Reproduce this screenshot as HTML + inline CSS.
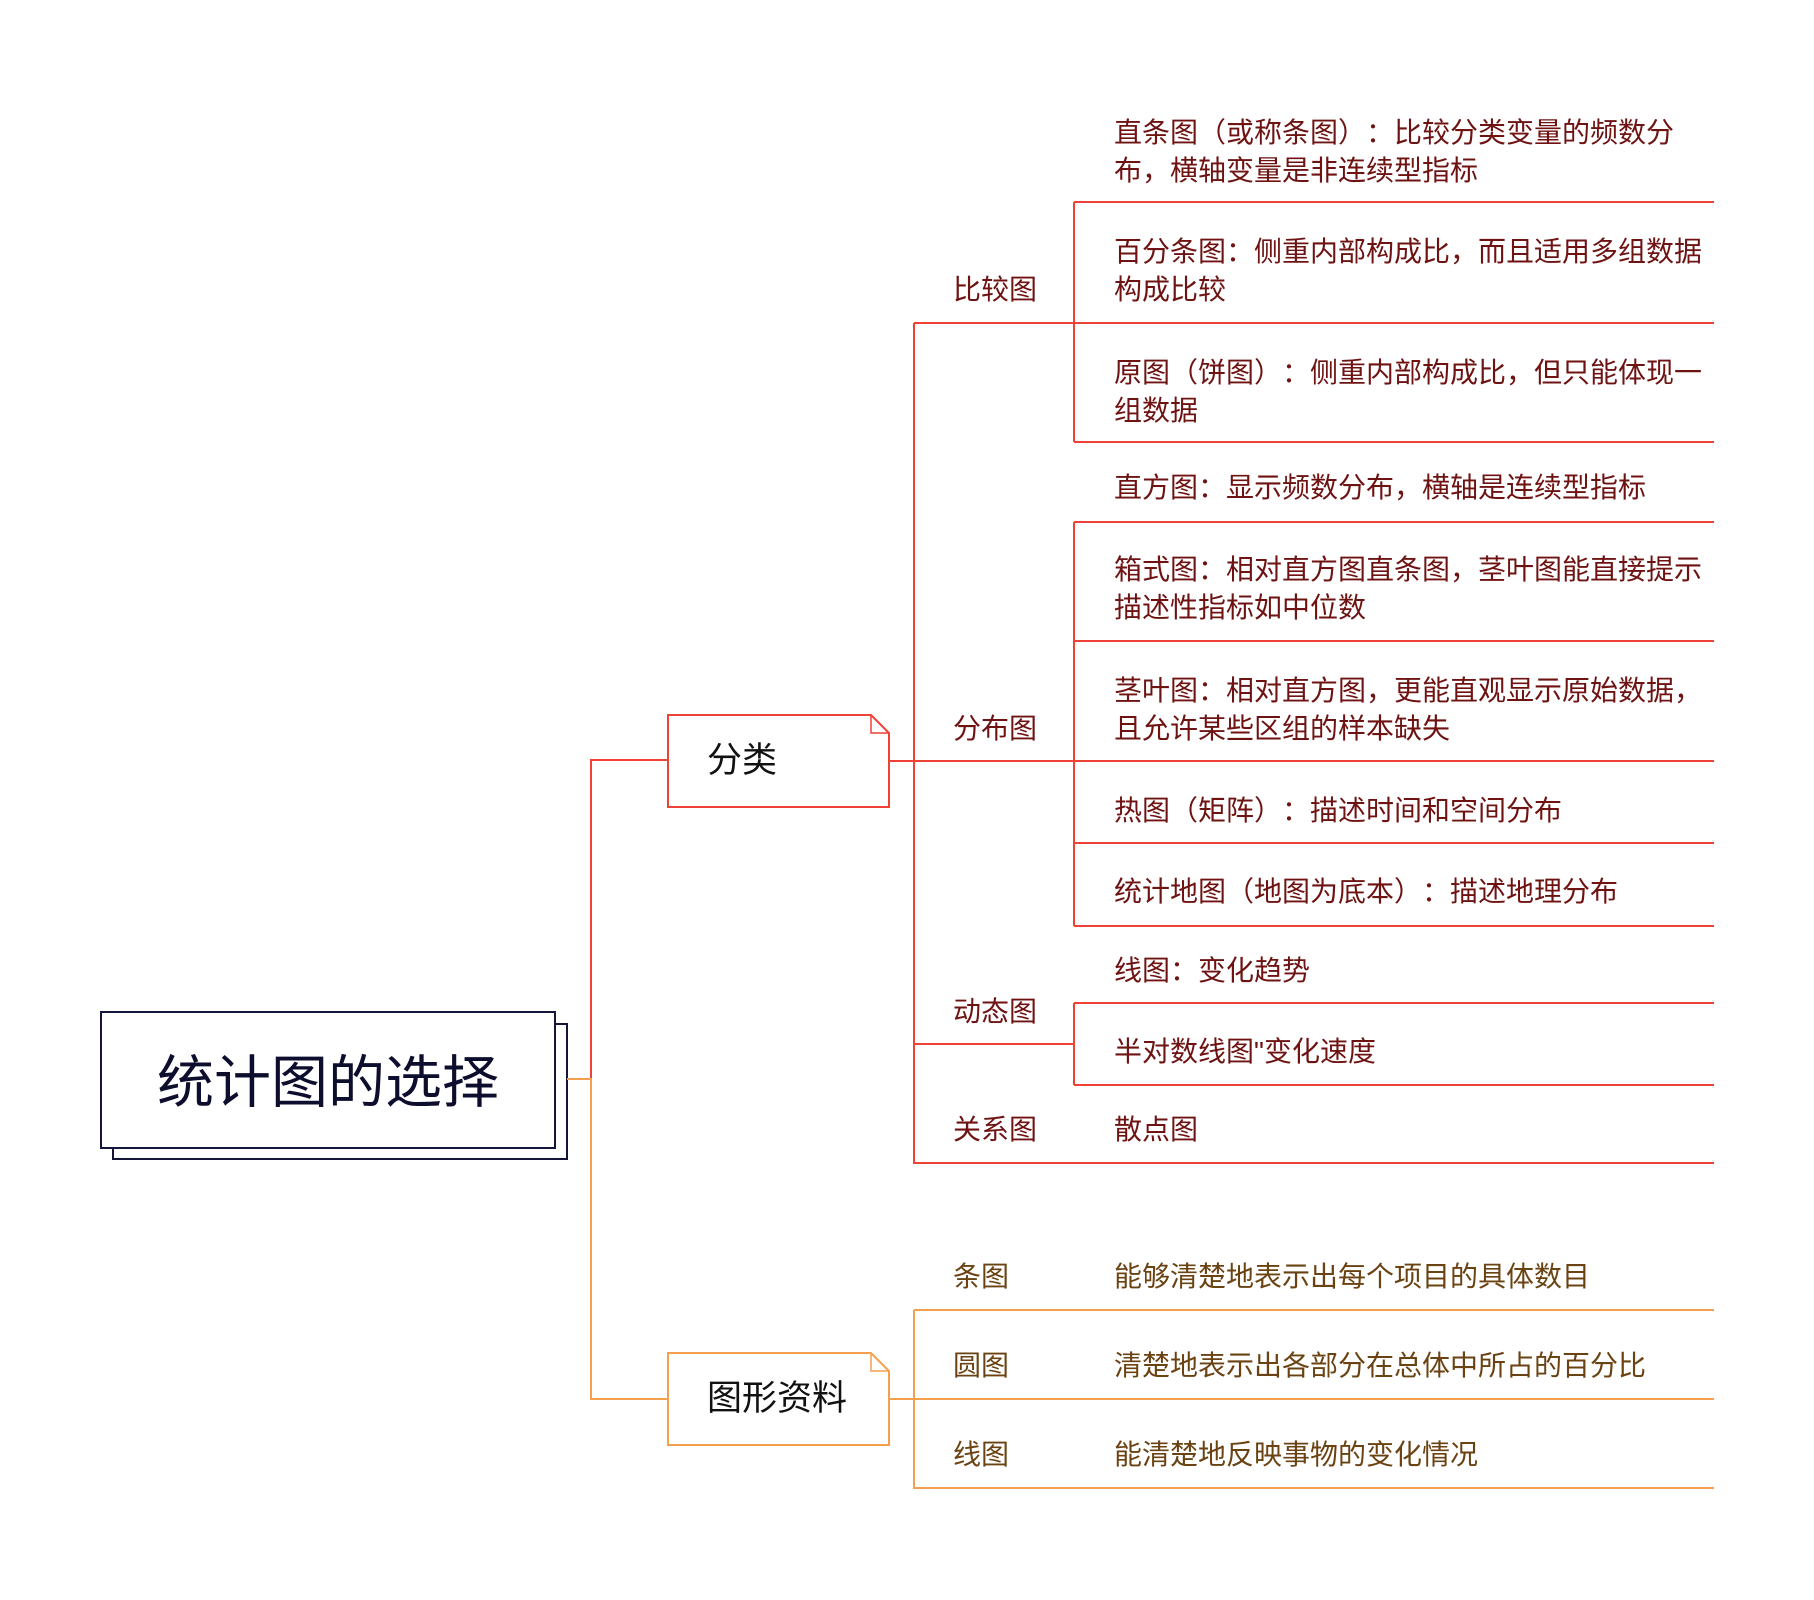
<!DOCTYPE html>
<html><head><meta charset="utf-8"><style>
body{margin:0;width:1814px;height:1600px;background:#fff;position:relative;overflow:hidden;font-family:"Liberation Sans","Noto Sans CJK SC",sans-serif}
.t{position:absolute;white-space:nowrap;font-size:28px;line-height:38px;color:#6e1212;text-spacing-trim:space-all;font-feature-settings:"halt" 0,"palt" 0}
.o{color:#6b4313}
svg{position:absolute;left:0;top:0}
</style></head><body>
<svg width="1814" height="1600">
<g fill="none" stroke-width="2">
<rect x="113" y="1024" width="454" height="135" fill="#fff" stroke="#15153a"/>
<rect x="101" y="1012" width="454" height="136" fill="#fff" stroke="#15153a"/>
<g stroke="#ef4136">
<path d="M591 1079V760H668"/>
<path d="M889 761H914M914 323V1163H1714"/>
<path d="M914 323H1074M1074 202V442M1074 202H1714M1074 323H1714M1074 442H1714"/>
<path d="M914 761H1714M1074 522V926M1074 522H1714M1074 641H1714M1074 843H1714M1074 926H1714"/>
<path d="M914 1044H1074M1074 1003V1085M1074 1003H1714M1074 1085H1714"/>
<path d="M668 715H871L889 733V807H668Z" fill="#fff"/>
<path d="M871 715V733H889" stroke-width="1.5"/>
</g>
<g stroke="#f4a04e">
<path d="M567 1079H591V1399H668"/>
<path d="M889 1399H914M914 1310V1488H1714M914 1310H1714M914 1399H1714"/>
<path d="M668 1353H871L889 1371V1445H668Z" fill="#fff"/>
<path d="M871 1353V1371H889" stroke-width="1.5"/>
</g>
</g>
</svg>
<div class="t" style="left:101px;top:1046px;width:454px;text-align:center;font-size:57px;line-height:74px;color:#0d0d2d">统计图的选择</div>
<div class="t" style="left:707px;top:741px;font-size:35px;line-height:40px;color:#111">分类</div>
<div class="t" style="left:707px;top:1379px;font-size:35px;line-height:40px;color:#111">图形资料</div>

<div class="t" style="left:953px;top:271px">比较图</div>
<div class="t" style="left:953px;top:710px">分布图</div>
<div class="t" style="left:953px;top:993px">动态图</div>
<div class="t" style="left:953px;top:1111px">关系图</div>

<div class="t" style="left:1114px;top:114px">直条图（或称条图）：比较分类变量的频数分<br>布，横轴变量是非连续型指标</div>
<div class="t" style="left:1114px;top:233px">百分条图：侧重内部构成比，而且适用多组数据<br>构成比较</div>
<div class="t" style="left:1114px;top:354px">原图（饼图）：侧重内部构成比，但只能体现一<br>组数据</div>
<div class="t" style="left:1114px;top:469px">直方图：显示频数分布，横轴是连续型指标</div>
<div class="t" style="left:1114px;top:551px">箱式图：相对直方图直条图，茎叶图能直接提示<br>描述性指标如中位数</div>
<div class="t" style="left:1114px;top:672px">茎叶图：相对直方图，更能直观显示原始数据，<br>且允许某些区组的样本缺失</div>
<div class="t" style="left:1114px;top:792px">热图（矩阵）：描述时间和空间分布</div>
<div class="t" style="left:1114px;top:873px">统计地图（地图为底本）：描述地理分布</div>
<div class="t" style="left:1114px;top:952px">线图：变化趋势</div>
<div class="t" style="left:1114px;top:1033px">半对数线图"变化速度</div>
<div class="t" style="left:1114px;top:1111px">散点图</div>

<div class="t o" style="left:953px;top:1258px">条图</div>
<div class="t o" style="left:953px;top:1347px">圆图</div>
<div class="t o" style="left:953px;top:1436px">线图</div>
<div class="t o" style="left:1114px;top:1258px">能够清楚地表示出每个项目的具体数目</div>
<div class="t o" style="left:1114px;top:1347px">清楚地表示出各部分在总体中所占的百分比</div>
<div class="t o" style="left:1114px;top:1436px">能清楚地反映事物的变化情况</div>
</body></html>
